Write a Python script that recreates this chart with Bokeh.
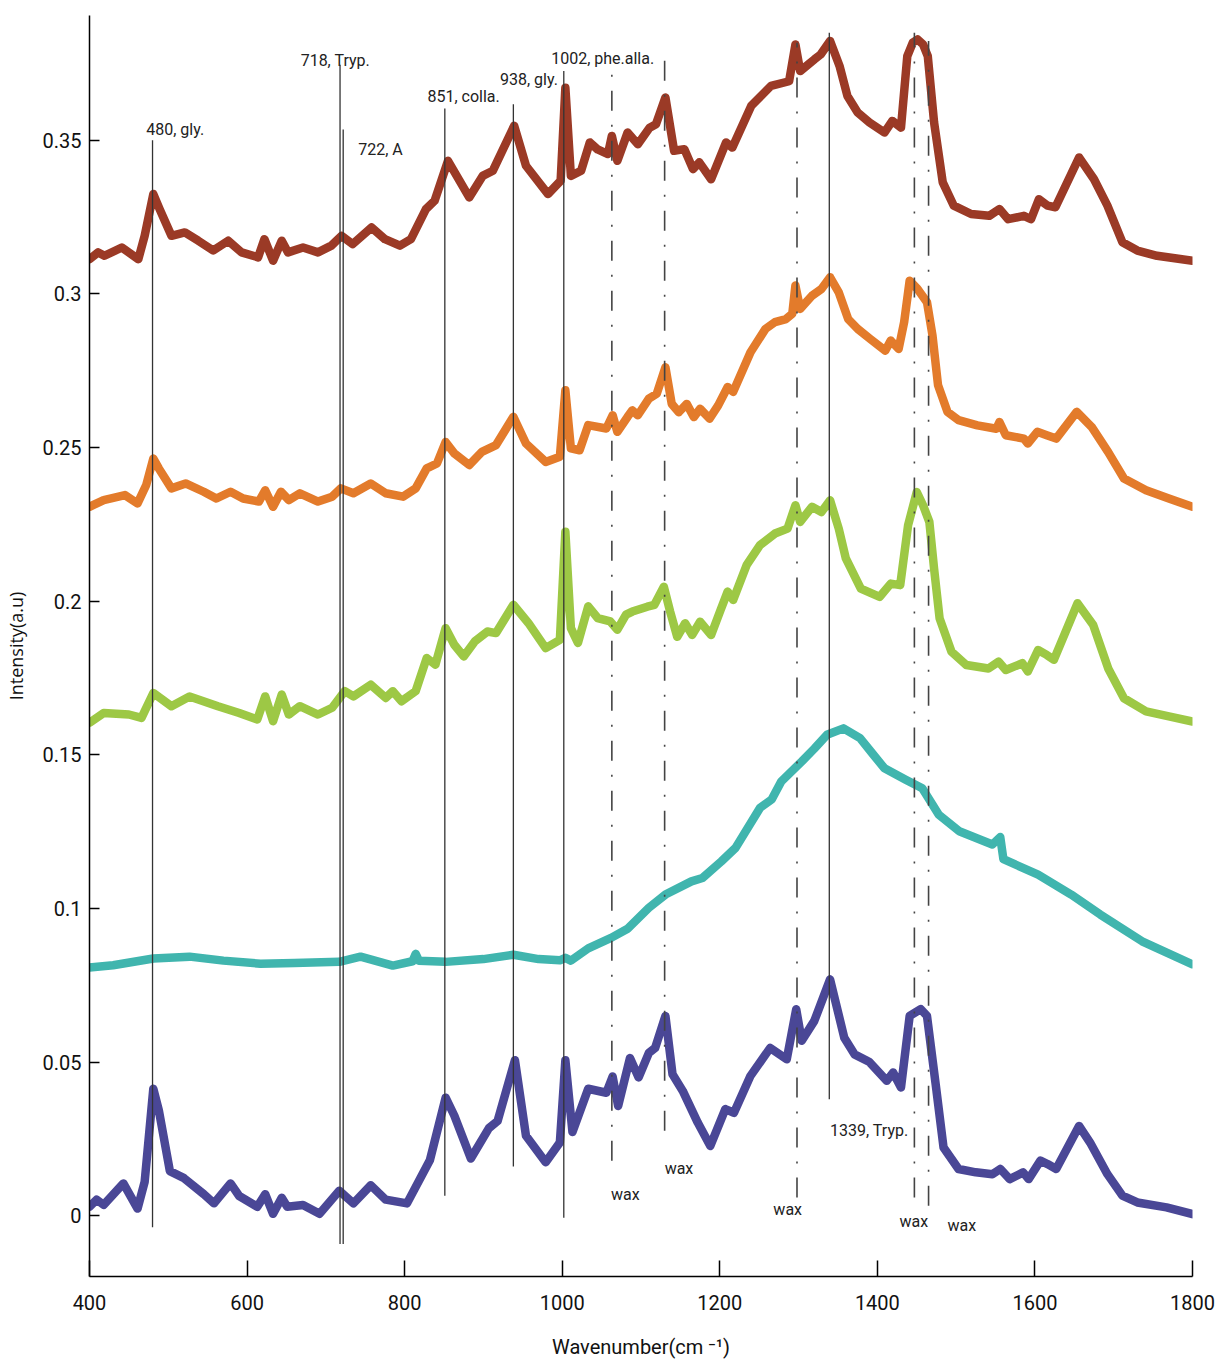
from bokeh.plotting import figure
from bokeh.models import ColumnDataSource, FixedTicker
from bokeh.embed import file_html
from bokeh.resources import INLINE
from bokeh.core.properties import value

# ---------------- data (wavenumber, intensity) ----------------
brown = [(400, .3113), (411, .3135), (419, .3124), (441, .3151), (462, .3113), (470, .3189),
         (481, .3325), (489, .3276), (504, .3189), (521, .3200), (538, .3173), (557, .3141),
         (576, .3173), (593, .3135), (614, .3119), (622, .3178), (633, .3108), (644, .3173),
         (652, .3135), (671, .3151), (690, .3135), (707, .3157), (720, .3189), (734, .3162),
         (758, .3216), (775, .3178), (794, .3157), (808, .3178), (827, .3276), (838, .3303),
         (855, .3433), (882, .3314), (899, .3384), (912, .3401), (939, .3547), (954, .3417),
         (982, .3325), (998, .3368), (1004, .3671), (1011, .3384), (1024, .3401), (1035, .3493),
         (1045, .3470), (1058, .3455), (1063, .3514), (1070, .3433), (1083, .3525), (1096, .3487),
         (1111, .3541), (1119, .3552), (1131, .3639), (1142, .3466), (1155, .3471), (1166, .3406),
         (1174, .3428), (1189, .3373), (1208, .3493), (1216, .3476), (1240, .3612), (1265, .3677),
         (1288, .3692), (1296, .3812), (1302, .3725), (1320, .3763), (1328, .3779), (1340, .3823),
         (1352, .3742), (1362, .3644), (1375, .3590), (1390, .3558), (1409, .3525), (1419, .3563),
         (1430, .3541), (1438, .3774), (1445, .3818), (1451, .3828), (1458, .3812), (1464, .3774),
         (1472, .3558), (1483, .3363), (1497, .3287), (1519, .3260), (1542, .3254), (1555, .3276),
         (1566, .3243), (1586, .3254), (1595, .3243), (1605, .3308), (1616, .3287), (1626, .3282),
         (1656, .3444), (1675, .3373), (1692, .3287), (1711, .3168), (1730, .3141), (1755, .3124),
         (1800, .3108)]

orange = [(400, .2307), (418, .2329), (445, .2345), (461, .2318), (472, .2378), (481, .2464),
          (488, .2432), (504, .2367), (522, .2383), (545, .2356), (561, .2334), (579, .2356),
          (595, .2334), (615, .2324), (623, .2361), (633, .2307), (643, .2356), (653, .2329),
          (667, .2351), (690, .2324), (708, .2340), (719, .2367), (735, .2351), (757, .2383),
          (776, .2351), (798, .2340), (814, .2367), (828, .2432), (841, .2448), (852, .2518),
          (863, .2481), (882, .2443), (898, .2486), (916, .2508), (938, .2600), (954, .2513),
          (979, .2453), (997, .2470), (1004, .2686), (1011, .2497), (1022, .2491), (1033, .2573),
          (1056, .2562), (1064, .2605), (1070, .2551), (1083, .2600), (1089, .2621), (1096, .2605),
          (1110, .2659), (1120, .2675), (1131, .2761), (1139, .2642), (1148, .2615), (1158, .2642),
          (1167, .2599), (1175, .2626), (1187, .2594), (1198, .2637), (1210, .2697), (1217, .2681),
          (1239, .2810), (1258, .2886), (1270, .2908), (1284, .2918), (1292, .2935), (1296, .3027),
          (1302, .2951), (1317, .2994), (1329, .3016), (1340, .3054), (1351, .3005), (1363, .2918),
          (1375, .2886), (1391, .2853), (1410, .2815), (1417, .2848), (1427, .2821), (1434, .2908),
          (1441, .3043), (1451, .3016), (1463, .2973), (1470, .2864), (1477, .2703), (1489, .2616),
          (1503, .2589), (1527, .2572), (1551, .2561), (1555, .2583), (1563, .2540), (1586, .2529),
          (1591, .2513), (1603, .2551), (1615, .2540), (1627, .2529), (1653, .2616), (1672, .2567),
          (1693, .2485), (1713, .2399), (1741, .2361), (1770, .2334), (1800, .2307)]

green = [(400, .1604), (418, .1636), (450, .1631), (466, .1620), (481, .1701), (504, .1658),
         (527, .1690), (563, .1658), (590, .1636), (613, .1615), (623, .1690), (633, .1609),
         (644, .1696), (653, .1631), (667, .1658), (690, .1631), (708, .1653), (724, .1707),
         (735, .1690), (757, .1728), (776, .1685), (785, .1707), (796, .1674), (814, .1707),
         (828, .1815), (839, .1793), (852, .1912), (863, .1858), (875, .1820), (889, .1869),
         (905, .1901), (916, .1896), (938, .1988), (957, .1929), (979, .1847), (997, .1874),
         (1004, .2226), (1011, .1912), (1020, .1864), (1033, .1983), (1045, .1945), (1061, .1934),
         (1070, .1907), (1081, .1956), (1089, .1966), (1108, .1982), (1117, .1988), (1129, .2047),
         (1137, .1966), (1146, .1884), (1156, .1928), (1165, .1890), (1175, .1933), (1189, .1890),
         (1201, .1971), (1210, .2031), (1217, .2004), (1234, .2117), (1251, .2182), (1270, .2220),
         (1286, .2236), (1296, .2312), (1302, .2258), (1317, .2307), (1329, .2290), (1340, .2328),
         (1351, .2236), (1360, .2139), (1379, .2041), (1403, .2014), (1417, .2057), (1429, .2052),
         (1439, .2247), (1450, .2355), (1458, .2312), (1466, .2258), (1472, .2106), (1479, .1944),
         (1494, .1836), (1513, .1792), (1541, .1781), (1554, .1803), (1563, .1776), (1584, .1798),
         (1591, .1771), (1604, .1841), (1615, .1825), (1624, .1809), (1654, .1993), (1674, .1922),
         (1693, .1781), (1713, .1684), (1741, .1641), (1770, .1625), (1800, .1608)]

teal = [(400, .0808), (430, .0815), (481, .0837), (527, .0843), (570, .0830), (617, .0820),
        (660, .0822), (717, .0826), (744, .0843), (785, .0814), (810, .0828), (814, .0852),
        (818, .0830), (852, .0826), (900, .0835), (938, .0849), (970, .0835), (997, .0831),
        (1004, .0839), (1011, .0830), (1033, .0870), (1062, .0904), (1083, .0934), (1110, .1002),
        (1131, .1045), (1164, .1088), (1178, .1099), (1202, .1153), (1220, .1197), (1251, .1327),
        (1266, .1355), (1278, .1413), (1304, .1478), (1320, .1520), (1336, .1565), (1357, .1586),
        (1378, .1554), (1395, .1500), (1409, .1456), (1436, .1419), (1457, .1391), (1478, .1305),
        (1504, .1251), (1546, .1208), (1556, .1232), (1560, .1160), (1604, .1110), (1646, .1045),
        (1683, .0980), (1736, .0893), (1800, .0818)]

blue = [(400, .0029), (409, .0052), (418, .0035), (443, .0105), (461, .0023), (470, .0110),
        (481, .0413), (488, .0343), (502, .0145), (520, .0122), (545, .0070), (558, .0040),
        (579, .0105), (590, .0064), (613, .0029), (623, .0070), (633, .0006), (644, .0058),
        (651, .0029), (671, .0035), (692, .0006), (717, .0081), (735, .0040), (757, .0099),
        (776, .0052), (803, .0040), (832, .0180), (852, .0384), (863, .0326), (884, .0186),
        (907, .0285), (918, .0308), (940, .0506), (954, .0260), (979, .0174), (997, .0238),
        (1004, .0506), (1013, .0272), (1033, .0413), (1056, .0400), (1064, .0453), (1071, .0357),
        (1086, .0513), (1097, .0450), (1110, .0530), (1118, .0546), (1131, .0650), (1140, .0460),
        (1153, .0406), (1172, .0303), (1188, .0227), (1207, .0347), (1218, .0335), (1239, .0455),
        (1264, .0546), (1285, .0509), (1297, .0672), (1304, .0569), (1320, .0634), (1340, .0769),
        (1358, .0579), (1371, .0525), (1390, .0500), (1412, .0439), (1420, .0466), (1430, .0417),
        (1441, .0650), (1455, .0672), (1463, .0650), (1474, .0428), (1484, .0222), (1503, .0152),
        (1525, .0141), (1546, .0135), (1556, .0152), (1568, .0119), (1585, .0141), (1592, .0119),
        (1607, .0179), (1616, .0168), (1627, .0152), (1656, .0292), (1670, .0238), (1692, .0135),
        (1711, .0065), (1730, .0043), (1767, .0027), (1800, .0005)]

series_colors = ["#9b3a26", "#e37b2b", "#9dc845", "#40b5ae", "#4a4796"]

# assigned bands (solid reference lines)
band_wn = [480, 718, 722, 851, 938, 1002, 1339]
band_top = [0.3500, 0.3746, 0.3535, 0.3603, 0.3617, 0.3725, 0.3850]
band_bottom = [-0.0038, -0.0092, -0.0092, 0.0065, 0.0160, -0.0007, 0.0379]
band_text = ["480, gly.", "718, Tryp.", "722, A", "851, colla.", "938, gly.", "1002, phe.alla.", "1339, Tryp."]
band_text_x = [472, 668, 741, 829, 921, 986, 1340]
band_text_y = [0.3535, 0.3759, 0.3470, 0.3642, 0.3697, 0.3765, 0.0276]

# wax bands (dash-dot lines)
wax_wn = [1063, 1130, 1298, 1447, 1465]
wax_top = [0.3731, 0.3774, 0.3817, 0.3850, 0.3823]
wax_bottom = [0.0179, 0.0276, 0.0059, 0.0059, 0.0032]
wax_text = ["wax", "wax", "wax", "wax", "wax"]
wax_text_x = [1062, 1130, 1268, 1428, 1489]
wax_text_y = [0.0070, 0.0152, 0.0019, -0.0018, -0.0032]

x_ticks = [400, 600, 800, 1000, 1200, 1400, 1600, 1800]
y_ticks = [0, 0.05, 0.1, 0.15, 0.2, 0.25, 0.3, 0.35]
y_tick_labels = ["0", "0.05", "0.1", "0.15", "0.2", "0.25", "0.3", "0.35"]

# ---------------- figure ----------------
FONT = "Roboto"

p = figure(width=1216, height=1365, x_range=(400, 1800), y_range=(-0.0198, 0.3906),
           output_backend="svg", toolbar_location=None,
           min_border_left=88, min_border_right=24, min_border_top=15, min_border_bottom=89)
p.background_fill_color = "white"
p.border_fill_color = "white"
p.outline_line_color = None
p.xgrid.grid_line_color = None
p.ygrid.grid_line_color = None

for data, col in zip([brown, orange, green, teal, blue], series_colors):
    xs = [d[0] for d in data]
    ys = [d[1] for d in data]
    p.line(xs, ys, line_color=col, line_width=8.5, line_join="round", line_cap="round")

band_src = ColumnDataSource(dict(x=band_wn, top=band_top, bottom=band_bottom))
p.segment(x0="x", y0="bottom", x1="x", y1="top", source=band_src,
          line_color="#333333", line_width=1.3)

wax_src = ColumnDataSource(dict(x=wax_wn, top=wax_top, bottom=wax_bottom))
p.segment(x0="x", y0="bottom", x1="x", y1="top", source=wax_src,
          line_color="#444444", line_width=1.6, line_dash="20 14 2 14")

p.text(x=band_text_x, y=band_text_y, text=band_text, text_font=value(FONT),
       text_font_size="16px", text_color="#222222", text_baseline="middle", text_align="left")
p.text(x=wax_text_x, y=wax_text_y, text=wax_text, text_font=value(FONT),
       text_font_size="16px", text_color="#222222", text_baseline="middle", text_align="left")

for ax in (p.xaxis[0], p.yaxis[0]):
    ax.axis_line_color = "black"
    ax.axis_line_width = 1.5
    ax.major_tick_line_color = "black"
    ax.major_tick_line_width = 1.5
    ax.major_tick_out = 0
    ax.minor_tick_line_color = None
    ax.major_label_text_font = FONT
    ax.major_label_text_font_size = "20px"
    ax.major_label_text_color = "#111111"
    ax.axis_label_text_font_style = "normal"
    ax.axis_label_text_color = "#111111"

p.xaxis.ticker = FixedTicker(ticks=x_ticks)
p.xaxis.major_tick_in = 16
p.xaxis.major_label_standoff = 18
p.xaxis.axis_label = "Wavenumber(cm \u207b\u00b9)"
p.xaxis.axis_label_text_font = FONT
p.xaxis.axis_label_text_font_size = "20px"
p.xaxis.axis_label_standoff = 22

p.yaxis.ticker = FixedTicker(ticks=y_ticks)
p.yaxis.major_label_overrides = {t: s for t, s in zip(y_ticks, y_tick_labels)}
p.yaxis.major_tick_in = 10
p.yaxis.major_label_standoff = 8
p.yaxis.axis_label = "Intensity(a.u)"
p.yaxis.axis_label_text_font = "Open Sans"
p.yaxis.axis_label_text_font_size = "18px"
p.yaxis.axis_label_standoff = 12

open("out.html", "w").write(file_html(p, INLINE))
